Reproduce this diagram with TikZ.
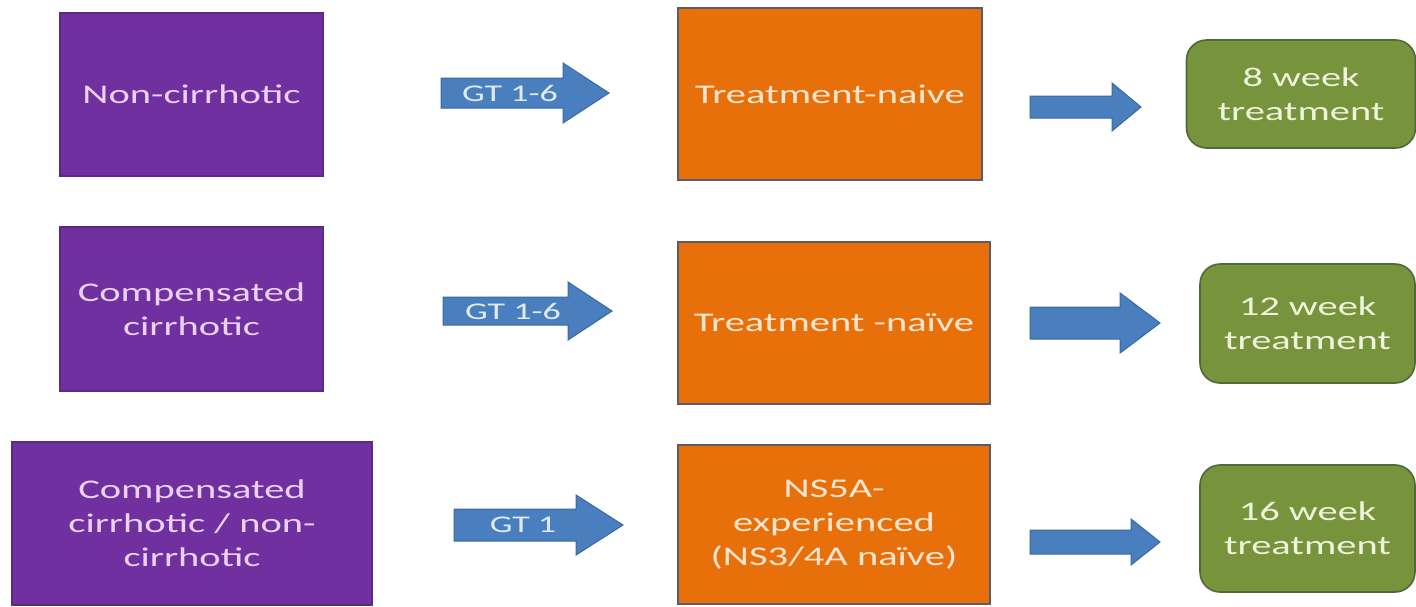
\documentclass[tikz,border=0pt]{standalone}
\usepackage{fontspec}
\newfontfamily\boxfont[FakeStretch=1.5]{Carlito}

\definecolor{cPurple}{HTML}{7030A0}
\definecolor{cPurpleEdge}{HTML}{5A2A88}
\definecolor{cPurpleText}{HTML}{EAD2F2}
\definecolor{cOrange}{HTML}{E8700A}
\definecolor{cOrangeEdge}{HTML}{5E5A66}
\definecolor{cOrangeText}{HTML}{FBE6D2}
\definecolor{cGreen}{HTML}{77933C}
\definecolor{cGreenEdge}{HTML}{4C6A3A}
\definecolor{cGreenText}{HTML}{EEF3DC}
\definecolor{cBlue}{HTML}{4A7FBF}
\definecolor{cBlueEdge}{HTML}{3A68A0}
\definecolor{cBlueText}{HTML}{E2EAF4}

% block arrow: x start, x head base, x tip, y centre, half shaft, half head
\newcommand\blockarrow[6]{%
  \draw[arrowshape] (#1,{#4-#5}) -- (#2,{#4-#5}) -- (#2,{#4-#6}) -- (#3,#4)
    -- (#2,{#4+#6}) -- (#2,{#4+#5}) -- (#1,{#4+#5}) -- cycle;}

\begin{document}
\begin{tikzpicture}[x=1pt,y=-1pt,
  boxtext/.style={align=center, inner sep=0pt,
    font=\boxfont\fontsize{27}{34}\selectfont},
  purplebox/.style={boxtext, rectangle, fill=cPurple, draw=cPurpleEdge,
    line width=1.2pt, text=cPurpleText},
  orangebox/.style={boxtext, rectangle, fill=cOrange, draw=cOrangeEdge,
    line width=1.6pt, text=cOrangeText},
  greenbox/.style={boxtext, rectangle, rounded corners=20pt, fill=cGreen,
    draw=cGreenEdge, line width=1.6pt, text=cGreenText},
  arrowshape/.style={fill=cBlue, draw=cBlueEdge, line width=1pt},
  arrowlabel/.style={inner sep=0pt, text=cBlueText,
    font=\boxfont\fontsize{24}{28}\selectfont}]

\useasboundingbox[fill=white] (0,0) rectangle (1416,606);

% patient groups
\node[purplebox, minimum width=263pt, minimum height=163pt] (p1) at (191.5,94.5)
  {Non-cirrhotic};
\node[purplebox, minimum width=263pt, minimum height=164pt] (p2) at (191.5,309)
  {Compensated\\cirrhotic};
\node[purplebox, minimum width=360pt, minimum height=163pt] (p3) at (192,523.5)
  {Compensated\\cirrhotic / non-\\cirrhotic};

% genotype arrows
\blockarrow{441}{563}{609}{93}{15}{30}
\blockarrow{443}{568}{612}{311}{14}{29}
\blockarrow{454}{576}{623}{525}{16}{30}
\node[arrowlabel] (g1) at (510,93) {GT 1-6};
\node[arrowlabel] (g2) at (513,311) {GT 1-6};
\node[arrowlabel] (g3) at (523,525) {GT 1};

% treatment history
\node[orangebox, minimum width=304pt, minimum height=172pt] (o1) at (830,94)
  {Treatment-naive};
\node[orangebox, minimum width=312pt, minimum height=162pt] (o2) at (834,323)
  {Treatment -naïve};
\node[orangebox, minimum width=312pt, minimum height=159pt] (o3) at (834,524.5)
  {NS5A-\\experienced\\(NS3/4A naïve)};

% result arrows
\blockarrow{1030}{1112}{1141}{107}{11}{24}
\blockarrow{1030}{1120}{1160}{323}{16}{30}
\blockarrow{1030}{1131}{1160}{542}{12}{23}

% treatment duration
\node[greenbox, minimum width=229pt, minimum height=108pt] (t1) at (1301,94)
  {8 week\\treatment};
\node[greenbox, minimum width=215pt, minimum height=119pt] (t2) at (1307.5,323.5)
  {12 week\\treatment};
\node[greenbox, minimum width=215pt, minimum height=127pt] (t3) at (1307.5,528.5)
  {16 week\\treatment};

\end{tikzpicture}
\end{document}
